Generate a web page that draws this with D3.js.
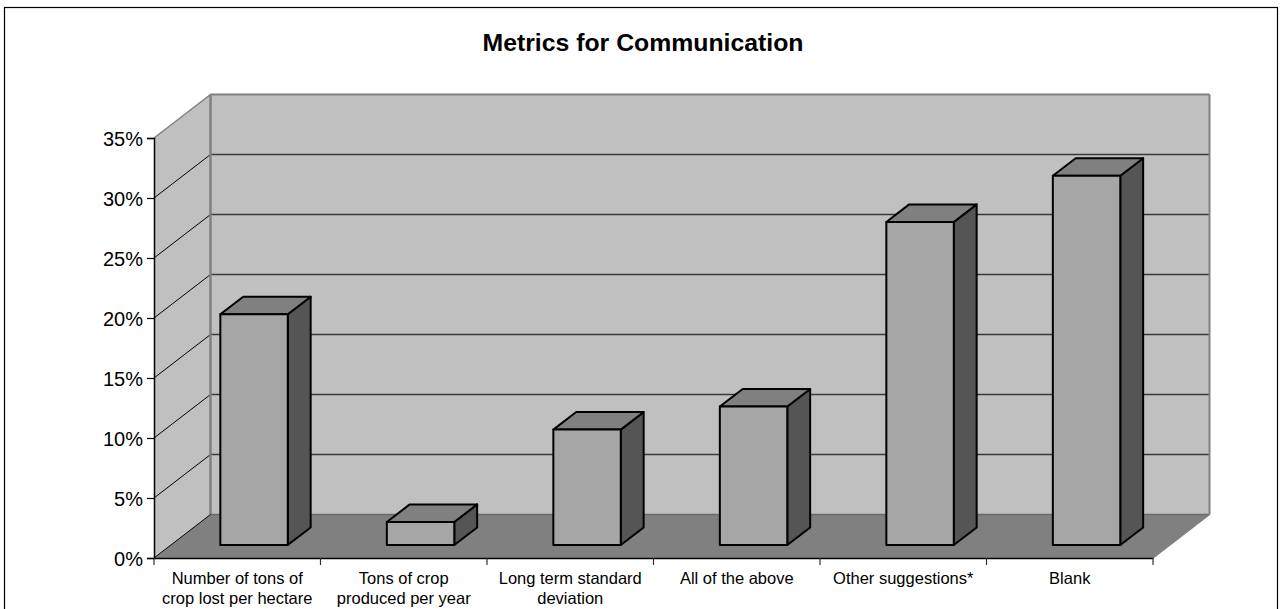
<!DOCTYPE html>
<html>
<head>
<meta charset="utf-8">
<script src="https://cdn.jsdelivr.net/npm/d3@7"></script>
<style>
  html, body { margin: 0; padding: 0; background: #fff; }
  svg { display: block; font-family: "Liberation Sans", Arial, sans-serif; }
</style>
</head>
<body>
<svg id="chart" width="1281" height="609"></svg>
<script>
// Survey responses: share of respondents per metric
const categories = [
  "Number of tons of crop lost per hectare",
  "Tons of crop produced per year",
  "Long term standard deviation",
  "All of the above",
  "Other suggestions*",
  "Blank"
];
const values = [19.23, 1.92, 9.62, 11.54, 26.92, 30.77];
const yTicks = [0, 5, 10, 15, 20, 25, 30, 35];
const title = "Metrics for Communication";

const svg = d3.select("#chart");

// Front plane of the plot and the oblique depth offset of the 3-D box
const x0 = 154, x1 = 1153, yBottom = 558, yTop = 138;
const DX = 56.5, DY = 43.5;

const x = d3.scaleBand().domain(categories).range([x0, x1]).padding(0);
const y = d3.scaleLinear().domain([0, 35]).range([yBottom, yTop]);

// project a front-plane point back by depth fraction d (0 = front, 1 = back wall)
const P = (px, py, d) => [px + d * DX, py - d * DY];
const poly = pts => "M" + pts.map(p => p.join(",")).join("L") + "Z";

// outer frame
svg.append("rect")
  .attr("x", 4.5).attr("y", 7.5)
  .attr("width", 1273).attr("height", 620)
  .attr("fill", "#fff").attr("stroke", "#000").attr("stroke-width", 1.2);

// title
svg.append("text")
  .attr("x", 643).attr("y", 50.5)
  .attr("text-anchor", "middle")
  .attr("font-size", 24.8).attr("font-weight", "bold")
  .text(title);

const walls = svg.append("g");
const vMax = 35;

// back wall
walls.append("path")
  .attr("d", poly([P(x0, y(vMax), 1), P(x1, y(vMax), 1), P(x1, y(0), 1), P(x0, y(0), 1)]))
  .attr("fill", "#c0c0c0");
// side wall
walls.append("path")
  .attr("d", poly([P(x0, y(vMax), 0), P(x0, y(vMax), 1), P(x0, y(0), 1), P(x0, y(0), 0)]))
  .attr("fill", "#c0c0c0");
// floor
walls.append("path")
  .attr("d", poly([P(x0, y(0), 0), P(x0, y(0), 1), P(x1, y(0), 1), P(x1, y(0), 0)]))
  .attr("fill", "#808080");

// gridlines on back and side walls
const grid = svg.append("g");
yTicks.filter(t => t > 0 && t < vMax).forEach(t => {
  const a = P(x0, y(t), 1), b = P(x1, y(t), 1), c = P(x0, y(t), 0);
  grid.append("line")
    .attr("x1", a[0]).attr("y1", a[1]).attr("x2", b[0]).attr("y2", b[1])
    .attr("stroke", "#3a3a3a").attr("stroke-width", 1.5);
  grid.append("line")
    .attr("x1", c[0]).attr("y1", c[1]).attr("x2", a[0]).attr("y2", a[1])
    .attr("stroke", "#000").attr("stroke-width", 1);
});

// wall outlines
const edge = (p, q, col, w) => grid.append("line")
  .attr("x1", p[0]).attr("y1", p[1]).attr("x2", q[0]).attr("y2", q[1])
  .attr("stroke", col).attr("stroke-width", w);
edge(P(x0, y(vMax), 0), P(x0, y(vMax), 1), "#808080", 1.5);
edge(P(x0, y(vMax), 1), P(x1, y(vMax), 1), "#808080", 2);
edge(P(x1, y(vMax), 1), P(x1, y(0), 1), "#808080", 2);
edge(P(x0, y(vMax), 1), P(x0, y(0), 1), "#808080", 2.5);
edge(P(x0, y(0), 1), P(x1, y(0), 1), "#6a6a6a", 1.5);
edge(P(x1, y(0), 0), P(x1, y(0), 1), "#808080", 1.5);
edge(P(x0, y(0), 0), P(x0, y(0), 1), "#000", 1);

// bars: front face, top and right side
const bw = x.bandwidth() * 0.405;
const dFront = (1 - 0.405) / 2, dBack = dFront + 0.405;
const bars = svg.append("g").selectAll("g").data(categories).join("g");
bars.each(function (c, i) {
  const g = d3.select(this);
  const xl = x(c) + (x.bandwidth() - bw) / 2, xr = xl + bw;
  const yt = y(values[i]), yb = y(0);
  const common = s => s.attr("stroke", "#000").attr("stroke-width", 2).attr("stroke-linejoin", "round");
  common(g.append("path")
    .attr("d", poly([P(xr, yt, dFront), P(xr, yt, dBack), P(xr, yb, dBack), P(xr, yb, dFront)]))
    .attr("fill", "#555555"));
  common(g.append("path")
    .attr("d", poly([P(xl, yt, dFront), P(xl, yt, dBack), P(xr, yt, dBack), P(xr, yt, dFront)]))
    .attr("fill", "#808080"));
  common(g.append("path")
    .attr("d", poly([P(xl, yt, dFront), P(xr, yt, dFront), P(xr, yb, dFront), P(xl, yb, dFront)]))
    .attr("fill", "#a6a6a6"));
});

// value axis on the front-left edge
const yAxis = svg.append("g")
  .attr("transform", `translate(${x0},0)`)
  .call(d3.axisLeft(y).tickValues(yTicks).tickSize(7).tickPadding(4).tickFormat(d => d + "%"));
yAxis.select(".domain").attr("stroke", "#000").attr("stroke-width", 1.5);
yAxis.selectAll(".tick line").attr("stroke", "#000").attr("stroke-width", 1.2);
yAxis.selectAll("text")
  .attr("font-size", 20).attr("font-family", "'Liberation Sans', Arial, sans-serif")
  .attr("fill", "#000").attr("dy", "0.36em");

// category axis along the front floor edge
const xAxis = svg.append("g")
  .attr("transform", `translate(0,${yBottom})`)
  .call(d3.axisBottom(x).tickSize(0).tickFormat(""));
xAxis.select(".domain").attr("stroke", "#000").attr("stroke-width", 1.5);
const bounds = [...categories.map(c => x(c)), x1];
xAxis.selectAll(".sep").data(bounds).join("line").attr("class", "sep")
  .attr("x1", d => d).attr("x2", d => d).attr("y1", 0).attr("y2", 7)
  .attr("stroke", "#333").attr("stroke-width", 1.2);

// wrapped category labels
const labelW = 158;
categories.forEach(c => {
  const t = svg.append("text")
    .attr("text-anchor", "middle")
    .attr("font-size", 16.5)
    .attr("x", x(c) + x.bandwidth() / 2);
  const words = c.split(" ");
  let line = [], lines = [];
  const probe = t.append("tspan");
  words.forEach(w => {
    const trial = line.concat(w).join(" ");
    probe.text(trial);
    if (probe.node().getComputedTextLength() > labelW && line.length) {
      lines.push(line.join(" "));
      line = [w];
    } else line.push(w);
  });
  lines.push(line.join(" "));
  probe.remove();
  lines.forEach((l, k) => t.append("tspan")
    .attr("x", x(c) + x.bandwidth() / 2)
    .attr("y", 584 + k * 20)
    .text(l));
});
</script>
</body>
</html>
